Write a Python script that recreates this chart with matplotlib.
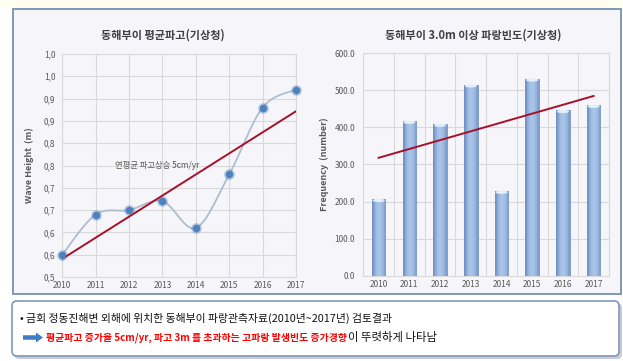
import numpy as np
import matplotlib
matplotlib.use('Agg')
from matplotlib import pyplot as plt
from matplotlib import patches

plt.rcParams['font.family'] = ['Noto Sans CJK KR', 'DejaVu Sans']

years = [2010, 2011, 2012, 2013, 2014, 2015, 2016, 2017]
wave_height = [0.55, 0.64, 0.65, 0.67, 0.61, 0.73, 0.88, 0.92]
freq = [206, 417, 409, 515, 228, 531, 446, 460]

h_ticks = [0.50, 0.55, 0.60, 0.65, 0.70, 0.75, 0.80, 0.85, 0.90, 0.95, 1.00]
h_ticklabels = ['0,5', '0,6', '0,6', '0,7', '0,7', '0,8', '0,8', '0,9', '0,9', '1,0', '1,0']
f_ticks = [0, 100, 200, 300, 400, 500, 600]

title_left = '동해부이 평균파고(기상청)'
title_right = '동해부이 3.0m 이상 파랑빈도(기상청)'
note = '연평균 파고상승 5cm/yr'
line1 = '• 금회 정동진해변 외해에 위치한 동해부이 파랑관측자료(2010년~2017년) 검토결과'
line2_red = '평균파고 증가율 5cm/yr, 파고 3m 를 초과하는 고파랑 발생빈도 증가경향'
line2_black = '이 뚜렷하게 나타남'

W, H = 623, 361
fig = plt.figure(figsize=(W / 100, H / 100), dpi=100)
fig.patch.set_facecolor('white')

# background layer in pixel coordinates
bg = fig.add_axes([0, 0, 1, 1], zorder=-5)
bg.set_xlim(0, W)
bg.set_ylim(H, 0)
bg.axis('off')
bg.add_patch(patches.Rectangle((0, 0), W, 8, facecolor='#FDFDF0', edgecolor='none'))
bg.add_patch(patches.Rectangle((12.5, 9), 608.5, 285, facecolor='#F6F6FA',
                               edgecolor='#7F98B6', linewidth=1.4))
# bottom note box with shadow
bg.add_patch(patches.FancyBboxPatch((14, 303), 608, 56, boxstyle='round,pad=0,rounding_size=5',
                                    facecolor='#C8CCD4', edgecolor='none'))
bg.add_patch(patches.FancyBboxPatch((12, 301), 607, 55, boxstyle='round,pad=0,rounding_size=5',
                                    facecolor='white', edgecolor='#7F98B6', linewidth=1.2))
bg.text(20, 318, line1, fontsize=7.8, color='#111111', va='center', ha='left')
bg.add_patch(patches.FancyArrow(23, 337.5, 13, 0, width=4.5, head_width=10, head_length=7,
                                length_includes_head=False, color='#3E7CC6', linewidth=0))
t_red = bg.text(46, 337.5, line2_red, fontsize=7.1, color='#FF0000', fontweight='bold',
                va='center', ha='left')
fig.canvas.draw()
ext = t_red.get_window_extent(renderer=fig.canvas.get_renderer())
bg.text(ext.x1 + 1, 337.5, line2_black, fontsize=8.2, color='#111111', va='center', ha='left')

grid_c = '#D9D9D9'
tick_c = '#595959'

# left chart: mean wave height
ax1 = fig.add_axes([62.3 / W, 1 - 277 / H, 233.7 / W, 223 / H])
ax1.patch.set_alpha(0)
ax1.set_xlim(2010, 2017)
ax1.set_ylim(0.5, 1.0)
ax1.set_yticks(h_ticks)
ax1.set_yticklabels(h_ticklabels)
ax1.set_xticks(years)
ax1.grid(True, color=grid_c, linewidth=0.8)
for s in ax1.spines.values():
    s.set_color(grid_c)
    s.set_linewidth(0.8)
ax1.tick_params(length=0, labelsize=6, colors=tick_c, pad=3)
ax1.tick_params(axis='y', pad=5)
ax1.set_axisbelow(True)

# smoothed line (Excel-style bezier through the points)
xs = np.array(years, dtype=float)
ys = np.array(wave_height)
cx, cy = [], []
for i in range(len(xs) - 1):
    p0 = i - 1 if i > 0 else i
    p3 = i + 2 if i + 2 < len(xs) else i + 1
    b0 = np.array([xs[i], ys[i]])
    b3 = np.array([xs[i + 1], ys[i + 1]])
    b1 = b0 + (b3 - np.array([xs[p0], ys[p0]])) / 6
    b2 = b3 - (np.array([xs[p3], ys[p3]]) - b0) / 6
    t = np.linspace(0, 1, 30)[:, None]
    seg = (1 - t) ** 3 * b0 + 3 * (1 - t) ** 2 * t * b1 + 3 * (1 - t) * t ** 2 * b2 + t ** 3 * b3
    cx.extend(seg[:, 0])
    cy.extend(seg[:, 1])
ax1.plot(cx, cy, color='#B0BDCF', linewidth=1.3, zorder=3)
ax1.plot(years, wave_height, 'o', color='#4F81BD', markersize=7, alpha=0.25, zorder=4, clip_on=False)
ax1.plot(years, wave_height, 'o', color='#4F81BD', markersize=4.5, zorder=5, clip_on=False)

k, b = np.polyfit(years, wave_height, 1)
ax1.plot([years[0], years[-1]], [k * years[0] + b, k * years[-1] + b], color='#A8102A',
         linewidth=1.4, zorder=4)
ax1.set_ylabel('Wave Height  (m)', fontsize=6.5, color=tick_c, fontweight='bold')
ax1.yaxis.set_label_coords(-0.121, 0.5)
fig.text(163 / W, 1 - 35 / H, title_left, fontsize=8, color='#404040', fontweight='bold',
         ha='center', va='center')
fig.text(157 / W, 1 - 165 / H, note, fontsize=6, color='#595959', ha='center', va='center')

# right chart: frequency of waves over 3 m
ax2 = fig.add_axes([363.3 / W, 1 - 275.7 / H, 245.7 / W, 222.4 / H])
ax2.patch.set_alpha(0)
xpos = np.arange(len(years))
bars = ax2.bar(xpos, freq, width=0.44, color='#93B4DE', edgecolor='#7494C0', linewidth=0.6, zorder=3)
grad = np.array([[0.0, 0.55, 0.9, 1.0, 0.9, 0.7, 0.25]])
for bar in bars:
    x0, w, h = bar.get_x(), bar.get_width(), bar.get_height()
    im = ax2.imshow(grad, cmap=matplotlib.colors.LinearSegmentedColormap.from_list(
        'cyl', ['#7393C3', '#A9C5EA']), extent=[x0, x0 + w, 0, h], aspect='auto', zorder=3.5)
    im.set_clip_path(bar)
    ax2.add_patch(patches.Ellipse((x0 + w / 2, h - 3), w * 0.9, 9, facecolor='#E4EEF9',
                                  edgecolor='none', zorder=4))
ax2.set_xlim(-0.5, 7.5)
ax2.set_ylim(0, 600)
ax2.set_yticks(f_ticks)
ax2.set_yticklabels([f'{v:.1f}' for v in f_ticks])
ax2.set_xticks(xpos)
ax2.set_xticklabels([str(y) for y in years])
ax2.set_xticks(xpos[:-1] + 0.5, minor=True)
ax2.grid(True, axis='y', color=grid_c, linewidth=0.8)
ax2.grid(True, axis='x', which='minor', color=grid_c, linewidth=0.8)
for s in ax2.spines.values():
    s.set_color(grid_c)
    s.set_linewidth(0.8)
ax2.tick_params(which='both', length=0, labelsize=6, colors=tick_c, pad=3)
ax2.tick_params(axis='y', pad=6)
ax2.set_axisbelow(True)

k2, b2 = np.polyfit(xpos, freq, 1)
ax2.plot([xpos[0], xpos[-1]], [b2, k2 * xpos[-1] + b2], color='#A8102A', linewidth=1.4, zorder=5)
ax2.set_ylabel('Frequency  (number)', fontsize=6.5, color=tick_c, fontweight='bold')
ax2.yaxis.set_label_coords(-0.14, 0.5)
fig.text(473 / W, 1 - 35 / H, title_right, fontsize=8, color='#404040', fontweight='bold',
         ha='center', va='center')

fig.savefig('out.png', dpi=100)
